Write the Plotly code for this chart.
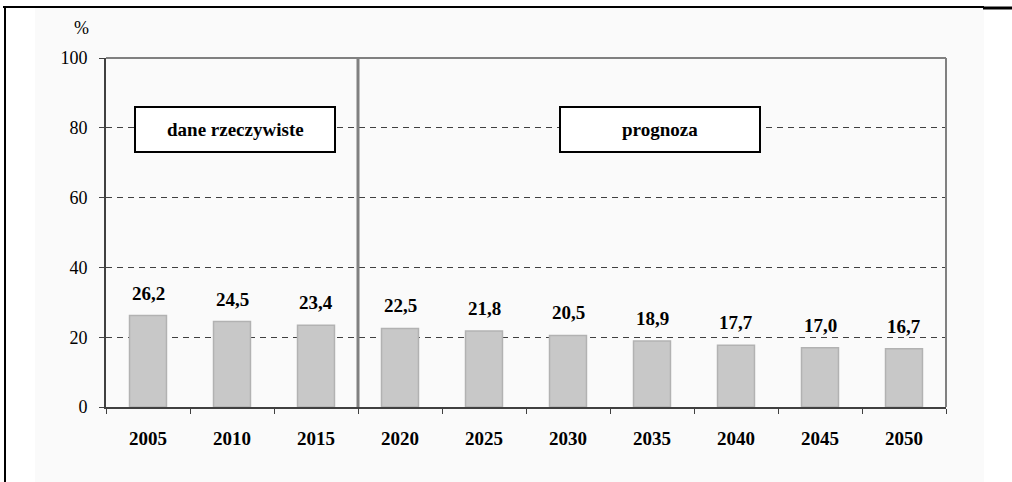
import plotly.graph_objects as go

years = ["2005", "2010", "2015", "2020", "2025", "2030", "2035", "2040", "2045", "2050"]
values = [26.2, 24.5, 23.4, 22.5, 21.8, 20.5, 18.9, 17.7, 17.0, 16.7]
y_ticks = [0, 20, 40, 60, 80, 100]
box_labels = ["dane rzeczywiste", "prognoza"]
unit_label = "%"
n_actual = 3  # number of years with actual data

W, H = 1012, 482
L, R, T, B = 106, 946, 58, 407  # plot area pixels
pw, ph = R - L, B - T


def px(x):
    return (x - L) / pw


def py(y):
    return (B - y) / ph


FONT = "Liberation Serif, Times New Roman, serif"
pos = list(range(len(years)))

fig = go.Figure()
fig.add_trace(go.Bar(
    x=pos, y=values, width=0.44,
    marker=dict(color="#c8c8c8", line=dict(color="#b2b2b2", width=1.5)),
    hovertext=years, hoverinfo="text+y",
))

shapes = []
shapes.append(dict(type="rect", xref="paper", yref="paper", layer="below",
                   x0=px(35), x1=px(984), y0=py(482), y1=py(8),
                   fillcolor="#fafafa", line=dict(width=0)))
shapes.append(dict(type="line", xref="paper", yref="paper",
                   x0=px(3), x1=px(984), y0=py(7), y1=py(7),
                   line=dict(color="black", width=2)))
shapes.append(dict(type="line", xref="paper", yref="paper",
                   x0=px(983), x1=px(1012), y0=py(8), y1=py(8),
                   line=dict(color="black", width=3)))
shapes.append(dict(type="line", xref="paper", yref="paper",
                   x0=px(5), x1=px(5), y0=py(7), y1=py(482),
                   line=dict(color="black", width=2)))
shapes.append(dict(type="line", xref="paper", yref="paper",
                   x0=0, x1=1, y0=1, y1=1, line=dict(color="#808080", width=2)))
shapes.append(dict(type="line", xref="paper", yref="paper",
                   x0=1, x1=1, y0=0, y1=1, line=dict(color="#808080", width=2)))
div_x = (pos[n_actual - 1] + pos[n_actual]) / 2
shapes.append(dict(type="line", xref="x", yref="y",
                   x0=div_x, x1=div_x, y0=0, y1=100,
                   line=dict(color="#808080", width=3)))
for x0, x1 in [(135, 335), (560, 760)]:
    shapes.append(dict(type="rect", xref="paper", yref="paper",
                       x0=px(x0), x1=px(x1), y0=py(152), y1=py(107),
                       fillcolor="white", line=dict(color="black", width=2)))

annotations = []
for (x0, x1), lab in zip([(135, 335), (560, 760)], box_labels):
    annotations.append(dict(xref="paper", yref="paper", x=px((x0 + x1) / 2), y=py(129.5),
                            text=f"<b>{lab}</b>", showarrow=False,
                            font=dict(family=FONT, size=19, color="black"),
                            xanchor="center", yanchor="middle"))
for p, v in zip(pos, values):
    annotations.append(dict(xref="x", yref="y", x=p, y=v,
                            text="<b>" + f"{v:.1f}".replace(".", ",") + "</b>",
                            showarrow=False, yanchor="bottom", yshift=10,
                            font=dict(family=FONT, size=19, color="black")))
annotations.append(dict(xref="paper", yref="paper", x=px(81), y=py(28),
                        text=unit_label, showarrow=False,
                        xanchor="center", yanchor="middle",
                        font=dict(family=FONT, size=18, color="black")))

boundaries = [p - 0.5 for p in pos] + [pos[-1] + 0.5]

fig.update_layout(
    width=W, height=H,
    margin=dict(l=L, r=W - R, t=T, b=H - B, pad=0),
    paper_bgcolor="white", plot_bgcolor="#fbfbfb",
    showlegend=False,
    font=dict(family=FONT, color="black"),
    shapes=shapes, annotations=annotations,
    xaxis=dict(range=[boundaries[0], boundaries[-1]], showline=True, linecolor="#404040",
               linewidth=2, tickvals=pos, ticktext=[f"<b>{y}</b>" for y in years],
               ticks="", showgrid=False, zeroline=False, ticklabelstandoff=13,
               tickfont=dict(family=FONT, size=19, color="black"),
               minor=dict(tickvals=boundaries, ticks="outside", ticklen=5,
                          tickcolor="#404040", tickwidth=1, showgrid=False),
               fixedrange=True),
    yaxis=dict(range=[0, 100], tickvals=y_ticks, showline=True, linecolor="#404040",
               linewidth=2, ticks="outside", ticklen=5, tickcolor="#404040",
               showgrid=True, gridcolor="#404040", gridwidth=1, griddash="6px,5px",
               zeroline=False, ticklabelstandoff=8,
               tickfont=dict(family=FONT, size=18, color="black"), fixedrange=True),
)

fig.write_html("out.html", config={"displayModeBar": False},
               post_script="document.body.style.margin='0';document.body.style.overflow='hidden';")
